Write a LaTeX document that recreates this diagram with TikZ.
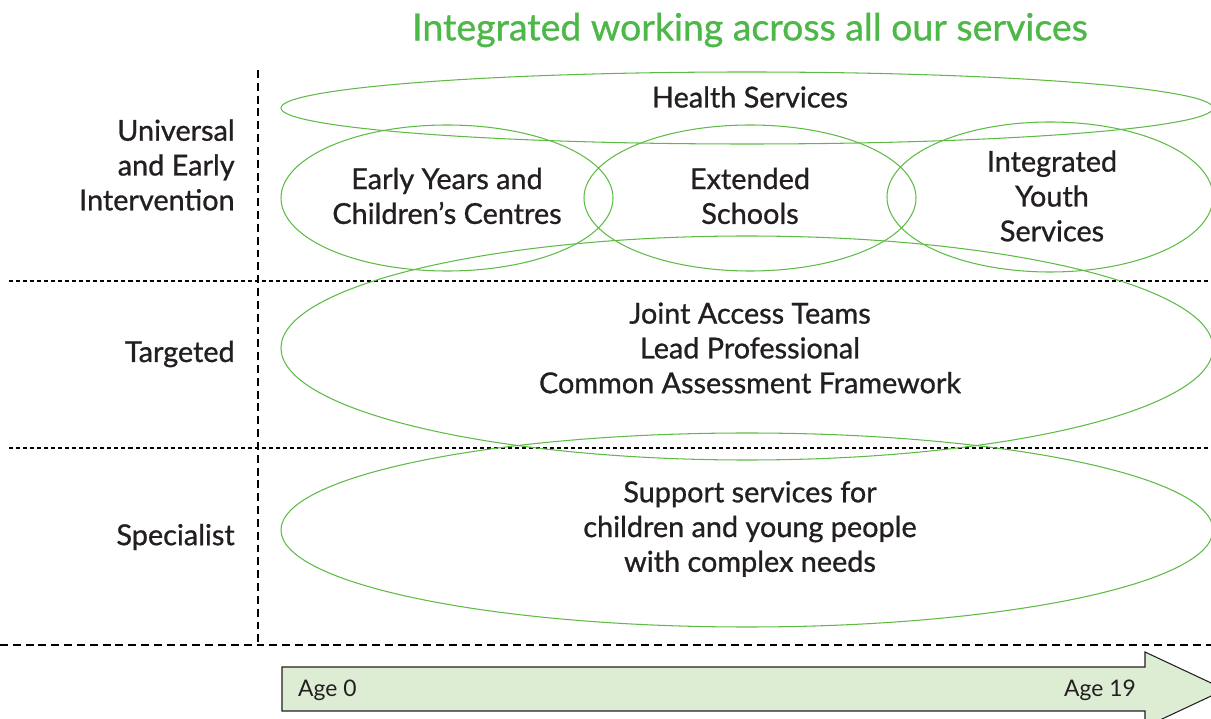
\documentclass[tikz,border=0pt]{standalone}
\usepackage{fontspec}
\setmainfont{Lato}
\newfontfamily\diagfont{Lato}[FakeBold=0.9]
\usetikzlibrary{positioning}
\definecolor{ovalgreen}{HTML}{5DBB46}
\definecolor{titlegreen}{HTML}{4DB748}
\definecolor{agefill}{HTML}{DDEDD4}
\definecolor{inkgrey}{HTML}{231F20}
\begin{document}
\begin{tikzpicture}[x=0.02cm,y=0.02cm,
  oval/.style={draw=ovalgreen, line width=0.6pt},
  label/.style={align=center, text=inkgrey, font=\diagfont\fontsize{16.4}{19.8}\selectfont},
  side/.style={align=right, anchor=east, inner sep=0pt, text=inkgrey, font=\diagfont\fontsize{16.4}{19.8}\selectfont},
  headline/.style={text=titlegreen, font=\diagfont\fontsize{21.3}{24}\selectfont},
  agetext/.style={text=inkgrey, font=\fontsize{13}{15}\selectfont},
  divider/.style={line width=0.6pt, dash pattern=on 2.3pt off 1.7pt},
  axisline/.style={line width=1.4pt, dash pattern=on 4.5pt off 2.8pt}]
\useasboundingbox (0,0) rectangle (1211,-719);
\clip (0,0) rectangle (1211,-719);
% dividers
\draw[divider] (9,-281) -- (1211,-281);
\draw[divider] (9,-448) -- (1211,-448);
\draw[axisline] (0,-645) -- (1211,-645);
\draw[axisline] (258,-70) -- (258,-645);
% ovals
\draw[oval] (747,-108) ellipse [x radius=466, y radius=36];
\draw[oval] (447,-198) ellipse [x radius=166, y radius=73];
\draw[oval] (750,-198) ellipse [x radius=166, y radius=73];
\draw[oval] (1050,-197) ellipse [x radius=163, y radius=75];
\draw[oval] (747,-348) ellipse [x radius=466, y radius=112];
\draw[oval] (747,-530) ellipse [x radius=466, y radius=97];
% age arrow
\draw[fill=agefill, draw=inkgrey, line width=0.6pt] (282,-667) -- (1145,-667) -- (1145,-652)
  -- (1225,-689.5) -- (1145,-727) -- (1145,-711) -- (282,-711) -- cycle;
% texts
\node[headline] (title) at (750,-30) {Integrated working across all our services};
\node[label] (health) at (750,-97) {Health Services};
\node[label] (early) at (447,-196) {Early Years and\\Children’s Centres};
\node[label] (extended) at (750,-196) {Extended\\Schools};
\node[label] (youth) at (1052,-196) {Integrated\\Youth\\Services};
\node[label] (access) at (750,-348) {Joint Access Teams\\Lead Professional\\Common Assessment Framework};
\node[label] (support) at (750,-529) {Support services for\\children and young people\\with complex needs};
\node[side] (universal) at (235,-165) {Universal\\and Early\\Intervention};
\node[side] (targeted) at (235,-354) {Targeted};
\node[side] (specialist) at (235,-537) {Specialist};
\node[agetext, anchor=west] (agestart) at (292,-690) {Age 0};
\node[agetext, anchor=east] (ageend) at (1142,-690) {Age 19};
\end{tikzpicture}
\end{document}
